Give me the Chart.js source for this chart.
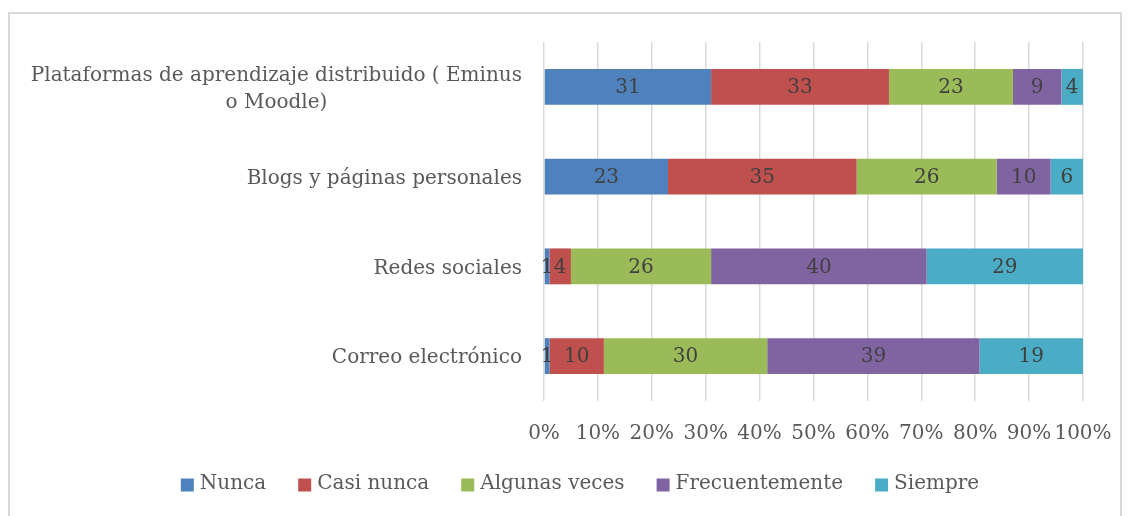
<!DOCTYPE html>
<html lang="es">
<head>
<meta charset="utf-8">
<title>Uso de herramientas</title>
<script src="https://cdn.jsdelivr.net/npm/chart.js@4/dist/chart.umd.min.js"></script>
<style>
    html, body { margin: 0; padding: 0; background: #fff; overflow: hidden; }
    #wrap { position: relative; width: 1128px; height: 516px; }
    #frame { position: absolute; left: 8px; top: 12px; width: 1110px; height: 520px; border: 2px solid #d9d9d9; }
    canvas { position: absolute; left: 0; top: 0; }
</style>
</head>
<body>
<div id="wrap">
    <div id="frame"></div>
    <canvas id="chart" width="1128" height="516"></canvas>
</div>
<script>
// datos
const categories = [
    ['Plataformas de aprendizaje distribuido ( Eminus', 'o Moodle)'],
    'Blogs y páginas personales',
    'Redes sociales',
    'Correo electrónico'
];
const seriesNames = ['Nunca', 'Casi nunca', 'Algunas veces', 'Frecuentemente', 'Siempre'];
const nunca = [31, 23, 1, 1];
const casiNunca = [33, 35, 4, 10];
const algunasVeces = [23, 26, 26, 30];
const frecuentemente = [9, 10, 40, 39];
const siempre = [4, 6, 29, 19];
const tickLabels = ['0%', '10%', '20%', '30%', '40%', '50%', '60%', '70%', '80%', '90%', '100%'];

const colors = ['#4f81bd', '#c0504d', '#9bbb59', '#8064a2', '#4bacc6'];
const FONT = '"DejaVu Serif", "Liberation Serif", serif';
const SIZE = 20;
const TEXT = '#595959';

const raw = [nunca, casiNunca, algunasVeces, frecuentemente, siempre];
const totals = categories.map((_, i) => raw.reduce((s, arr) => s + arr[i], 0));

const datasets = raw.map((arr, k) => ({
    label: seriesNames[k],
    data: arr.map((v, i) => v / totals[i] * 100),
    rawValues: arr,
    backgroundColor: colors[k],
    borderWidth: 0,
    barPercentage: 0.8,
    categoryPercentage: 0.5
}));

// etiquetas de categoría (centradas entre líneas, como en Excel)
const categoryLabels = {
    id: 'categoryLabels',
    afterDraw(chart) {
        const {ctx, scales: {y}, chartArea} = chart;
        ctx.save();
        ctx.font = SIZE + 'px ' + FONT;
        ctx.fillStyle = TEXT;
        ctx.textAlign = 'center';
        ctx.textBaseline = 'middle';
        const right = chartArea.left - 22;
        const lh = 27;
        categories.forEach((c, i) => {
            const lines = Array.isArray(c) ? c : [c];
            const w = Math.max(...lines.map(l => ctx.measureText(l).width));
            const cx = right - w / 2;
            const cy = y.getPixelForValue(i) + 2;
            lines.forEach((l, j) => {
                ctx.fillText(l, cx, cy + (j - (lines.length - 1) / 2) * lh);
            });
        });
        ctx.restore();
    }
};

// valores dentro de cada segmento
const valueLabels = {
    id: 'valueLabels',
    afterDatasetsDraw(chart) {
        const {ctx} = chart;
        ctx.save();
        ctx.font = SIZE + 'px ' + FONT;
        ctx.fillStyle = '#404040';
        ctx.textAlign = 'center';
        ctx.textBaseline = 'middle';
        chart.data.datasets.forEach((ds, k) => {
            chart.getDatasetMeta(k).data.forEach((bar, i) => {
                const p = bar.getProps(['x', 'y', 'base'], true);
                ctx.fillText(String(ds.rawValues[i]), (p.x + p.base) / 2, p.y + 1);
            });
        });
        ctx.restore();
    }
};

// leyenda inferior al estilo de Excel
const bottomLegend = {
    id: 'bottomLegend',
    afterDraw(chart) {
        const {ctx} = chart;
        ctx.save();
        ctx.font = SIZE + 'px ' + FONT;
        ctx.textBaseline = 'middle';
        ctx.textAlign = 'left';
        const box = 13, gapText = 6, gapItem = 32;
        const items = chart.data.datasets.map(ds => ({
            text: ds.label, color: ds.backgroundColor, w: ctx.measureText(ds.label).width
        }));
        const total = items.reduce((s, it) => s + box + gapText + it.w, 0) + gapItem * (items.length - 1);
        let x = 580 - total / 2;
        const yc = 485;
        items.forEach(it => {
            ctx.fillStyle = it.color;
            ctx.fillRect(x, yc - box / 2, box, box);
            ctx.fillStyle = TEXT;
            ctx.fillText(it.text, x + box + gapText, yc - 1);
            x += box + gapText + it.w + gapItem;
        });
        ctx.restore();
    }
};

new Chart(document.getElementById('chart'), {
    type: 'bar',
    data: { labels: categories, datasets },
    options: {
        responsive: false,
        animation: false,
        indexAxis: 'y',
        layout: { padding: { left: 32, right: 0, top: 42, bottom: 49 } },
        scales: {
            x: {
                stacked: true,
                min: 0,
                max: 100,
                grid: { color: '#d9d9d9', lineWidth: 1.5, drawTicks: false },
                border: { display: false },
                ticks: {
                    stepSize: 10,
                    autoSkip: false,
                    maxRotation: 0,
                    padding: 3,
                    color: TEXT,
                    font: { family: FONT, size: SIZE, lineHeight: 3.0 },
                    callback: (v, i) => tickLabels[i]
                }
            },
            y: {
                stacked: true,
                position: 'left',
                grid: { display: false },
                border: { display: false },
                ticks: { display: false },
                afterFit: s => { s.width = 512; }
            },
            yRight: {
                type: 'category',
                position: 'right',
                grid: { display: false },
                border: { display: false },
                ticks: { display: false },
                afterFit: s => { s.width = 45; }
            }
        },
        plugins: {
            legend: { display: false },
            tooltip: { enabled: false }
        }
    },
    plugins: [categoryLabels, valueLabels, bottomLegend]
});
</script>
</body>
</html>
